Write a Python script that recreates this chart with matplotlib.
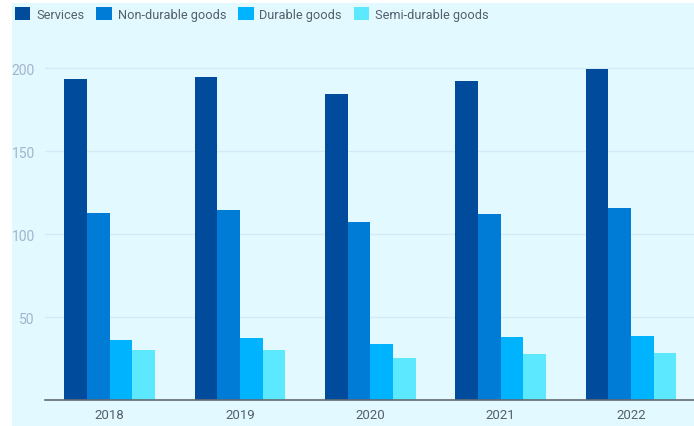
import matplotlib.pyplot as plt
import numpy as np
from matplotlib.patches import Rectangle

plt.rcParams['font.family'] = ['Roboto', 'DejaVu Sans']

years = ['2018', '2019', '2020', '2021', '2022']
series_names = ['Services', 'Non-durable goods', 'Durable goods', 'Semi-durable goods']
services = [193.4, 194.6, 184.3, 192.5, 199.5]
non_durable = [112.8, 114.5, 107.6, 112.4, 115.8]
durable = [36.2, 37.2, 34.0, 38.0, 38.8]
semi_durable = [30.2, 30.4, 25.6, 27.6, 28.4]
colors = ['#004b9b', '#007bd6', '#00b3ff', '#5ce8ff']

W, H = 694, 427
fig = plt.figure(figsize=(W / 100, H / 100), dpi=100, facecolor='white')

# light cyan panel behind everything
fig.patches.append(Rectangle((12 / W, 0), 1 - 12 / W, (H - 4) / H,
                             transform=fig.transFigure, facecolor='#e2faff',
                             edgecolor='none', zorder=-10))

ymax = 210
px_per_unit = (401 - 69.3) / 200
ax = fig.add_axes([44.6 / W, 26 / H, 651.5 / W, ymax * px_per_unit / H])
ax.set_facecolor('none')

x = np.arange(len(years))
bw = 0.174
all_series = [services, non_durable, durable, semi_durable]
for i, (vals, name, c) in enumerate(zip(all_series, series_names, colors)):
    ax.bar(x + (i - 1.5) * bw, vals, width=bw, color=c, label=name, zorder=3)

ax.set_xlim(-0.5, len(years) - 0.5)
ax.set_ylim(0, ymax)
ax.set_yticks([50, 100, 150, 200])
ax.set_xticks(x)
ax.set_xticklabels(years)
ax.grid(axis='y', color='#d3eaf8', linewidth=1, zorder=0)
ax.tick_params(axis='both', length=0)
ax.tick_params(axis='y', labelcolor='#a3b3cc', labelsize=10, pad=7)
ax.tick_params(axis='x', labelcolor='#555e6e', labelsize=9.5, pad=6)
for s in ['top', 'right', 'left']:
    ax.spines[s].set_visible(False)
ax.spines['bottom'].set_color('#666a70')
ax.spines['bottom'].set_linewidth(1.2)
ax.spines['bottom'].set_zorder(4)

# legend row across the top
fig.legend(loc='upper left', bbox_to_anchor=(10 / W, 1 - 3 / H), ncol=4,
           frameon=False, fontsize=9.2, labelcolor='#555e6e',
           handlelength=1.2, handleheight=1.2, handletextpad=0.45,
           columnspacing=0.95, borderaxespad=0)

fig.savefig('out.png', dpi=100, facecolor=fig.get_facecolor())
